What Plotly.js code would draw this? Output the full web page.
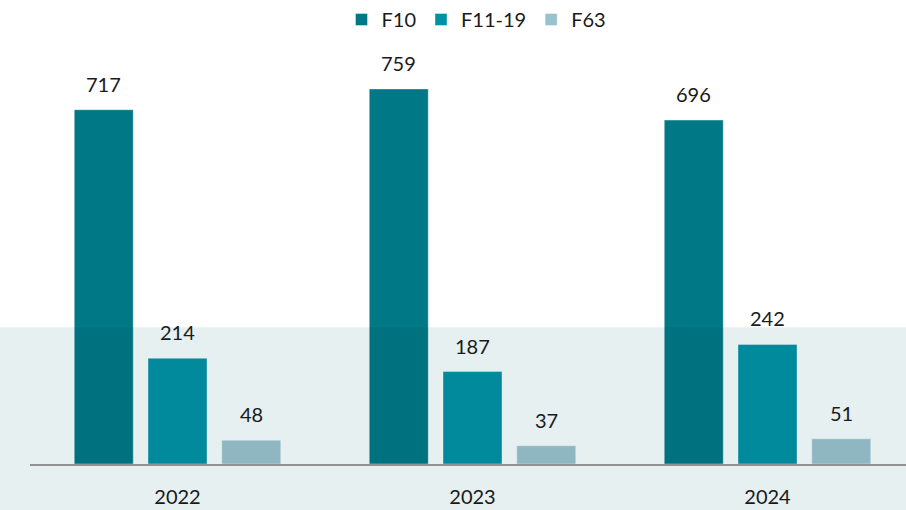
<!DOCTYPE html>
<html>
<head>
<meta charset="utf-8">
<script src="https://cdn.plot.ly/plotly-3.0.1.min.js"></script>
<style>html,body{margin:0;padding:0;background:#fff;}#chart{width:906px;height:510px;}</style>
</head>
<body>
<div id="chart"></div>
<script>
const years = ['2022', '2023', '2024'];
const seriesNames = ['F10', 'F11-19', 'F63'];
const f10 = [717, 759, 696];
const f11_19 = [214, 187, 242];
const f63 = [48, 37, 51];
const colors = ['#007886', '#0092A4', '#97C2CE'];

const seriesValues = [f10, f11_19, f63];
const W = 906, H = 510;
const margin = {l: 30, r: 0, t: 40, b: 46};
const plotW = W - margin.l - margin.r;
const plotH = H - margin.t - margin.b;
const catPx = 295;
const xRange = [-0.5, -0.5 + plotW / catPx];
const yMax = 856;
const bargap = 0.25;
const slotUnits = (1 - bargap) / seriesNames.length;
const font = 'Lato, Open Sans, DejaVu Sans, sans-serif';

const traces = seriesNames.map((name, i) => ({
  type: 'bar',
  name: name,
  x: years,
  y: seriesValues[i],
  marker: {color: colors[i], line: {color: 'rgba(255,255,255,0.4)', width: 1}},
  hoverinfo: 'skip'
}));

const annotations = [];
seriesNames.forEach((name, i) => {
  years.forEach((yr, j) => {
    annotations.push({
      x: j + (i - 1) * slotUnits, y: seriesValues[i][j], xref: 'x', yref: 'y',
      text: String(seriesValues[i][j]),
      showarrow: false,
      xanchor: 'center', yanchor: 'middle', yshift: 26,
      font: {family: font, size: 20, color: '#1a1a1a'}
    });
  });
});

const bandTop = 137 / plotH;
const layout = {
  width: W, height: H,
  margin: margin,
  paper_bgcolor: '#ffffff',
  plot_bgcolor: 'rgba(0,0,0,0)',
  barmode: 'group',
  bargap: bargap,
  bargroupgap: 0.2,
  showlegend: true,
  legend: {
    orientation: 'h', xref: 'paper', yref: 'paper',
    x: 0.5097, xanchor: 'center', y: 1 + 22 / plotH, yanchor: 'middle',
    font: {family: font, size: 20, color: '#1a1a1a'},
    itemwidth: 30, traceorder: 'normal', bgcolor: 'rgba(0,0,0,0)'
  },
  xaxis: {
    type: 'category', range: xRange, fixedrange: true,
    showline: true, linecolor: '#9a9a9a', linewidth: 2,
    showgrid: false, zeroline: false, ticks: '',
    ticklabelstandoff: 14,
    tickfont: {family: font, size: 20, color: '#1a1a1a'}
  },
  yaxis: {
    range: [0, yMax], showticklabels: false, showline: false, ticks: '',
    showgrid: false, zeroline: false, fixedrange: true
  },
  shapes: [
    {type: 'rect', xref: 'paper', yref: 'paper', x0: -0.05, x1: 1.05, y0: -0.2, y1: bandTop,
     fillcolor: '#F4FEFF', line: {width: 0}, layer: 'below'},
    {type: 'rect', xref: 'paper', yref: 'paper', x0: -0.05, x1: 1.05, y0: -0.2, y1: bandTop,
     fillcolor: 'rgba(0,0,0,0.055)', line: {width: 0}, layer: 'above'}
  ],
  annotations: annotations
};

Plotly.newPlot('chart', traces, layout, {displayModeBar: false, staticPlot: true});
</script>
</body>
</html>
